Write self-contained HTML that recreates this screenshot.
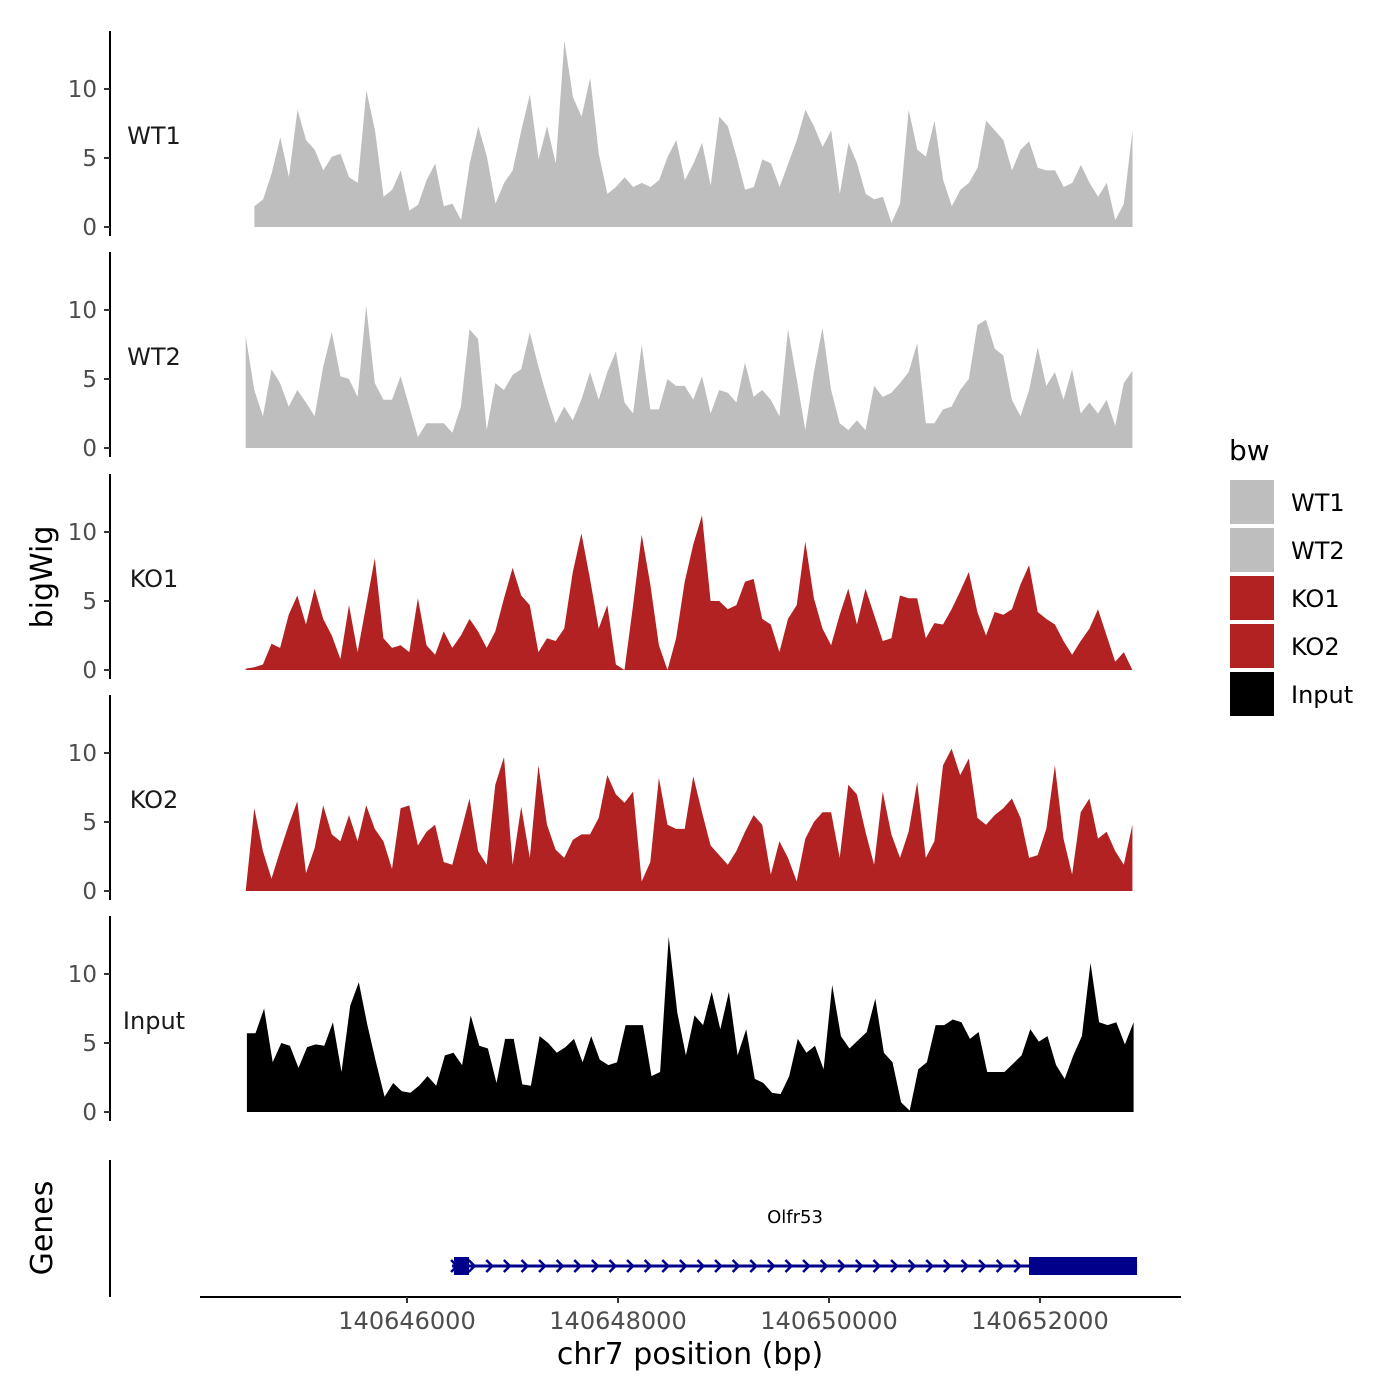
<!DOCTYPE html>
<html><head><meta charset="utf-8"><style>
html,body{margin:0;padding:0;background:#fff;}
svg{display:block;font-family:"DejaVu Sans","Liberation Sans",sans-serif;}
</style></head><body>
<svg id="chart" width="1400" height="1400" viewBox="0 0 1400 1400" xmlns="http://www.w3.org/2000/svg">
<g id="tracks"></g>
<g id="genes"></g>
<g id="xaxis"></g>
<text x="42" y="577" transform="rotate(-90 42 577)" text-anchor="middle" font-size="30" dy="10">bigWig</text>
<text x="42" y="1228" transform="rotate(-90 42 1228)" text-anchor="middle" font-size="30" dy="10">Genes</text>
<text x="690" y="1364" text-anchor="middle" font-size="30">chr7 position (bp)</text>
<g id="legend"></g>
</svg>
<script>
const trackNames = ["WT1","WT2","KO1","KO2","Input"];
const trackColors = ["#bebebe","#bebebe","#b22222","#b22222","#000000"];
const trackStarts = [140644554,140644471,140644471,140644471,140644482];
const binStep = 81.6;
const wt1Values = [1.5,2.0,3.9,6.5,3.6,8.5,6.3,5.6,4.1,5.1,5.3,3.6,3.2,9.9,7.0,2.2,2.7,4.1,1.2,1.6,3.4,4.6,1.5,1.7,0.5,4.6,7.3,5.1,1.7,3.2,4.1,7.0,9.6,4.9,7.3,4.6,13.5,9.4,8.0,10.8,5.3,2.4,2.9,3.6,2.9,3.2,2.9,3.4,5.1,6.3,3.4,4.6,6.1,3.0,8.0,7.3,5.1,2.7,2.9,4.9,4.6,2.9,4.6,6.3,8.5,7.3,5.8,7.0,2.4,6.1,4.6,2.4,2.0,2.2,0.3,1.7,8.5,5.6,5.1,7.7,3.4,1.5,2.7,3.2,4.3,7.7,7.0,6.3,4.1,5.6,6.2,4.3,4.1,4.1,2.9,3.2,4.5,3.2,2.2,3.2,0.5,1.7,7.0];
const wt2Values = [8.1,4.2,2.3,5.7,4.7,3.0,4.2,3.3,2.3,5.9,8.4,5.2,5.0,3.7,10.3,4.7,3.5,3.5,5.2,3.0,0.8,1.8,1.8,1.8,1.1,3.0,8.6,7.9,1.3,4.7,4.2,5.3,5.7,8.4,5.9,3.7,1.8,3.0,2.0,3.5,5.5,3.5,5.5,7.0,3.3,2.5,7.5,2.8,2.8,5.0,4.5,4.5,3.5,5.2,2.5,4.2,4.0,3.3,6.2,3.7,4.2,3.5,2.3,8.6,5.0,1.3,5.5,8.7,4.2,1.8,1.3,2.0,1.3,4.5,3.7,4.0,4.7,5.5,7.6,1.8,1.8,2.8,3.0,4.2,5.0,8.9,9.3,7.2,6.7,3.5,2.3,4.2,7.3,4.5,5.5,3.5,5.7,2.5,3.3,2.5,3.5,1.6,4.7,5.6];
const ko1Values = [0.1,0.2,0.4,1.9,1.6,4.0,5.4,3.3,5.9,3.7,2.5,0.8,4.7,1.3,4.7,8.1,2.3,1.6,1.8,1.3,5.2,1.8,1.1,2.8,1.6,2.5,3.7,2.8,1.6,2.8,5.2,7.4,5.4,4.7,1.3,2.3,2.1,3.0,7.1,9.9,6.6,3.0,4.7,0.4,0,4.7,9.8,6.2,1.8,0,2.3,6.4,9.1,11.2,5.0,5.0,4.4,4.7,6.4,6.6,3.7,3.3,1.3,3.7,4.7,9.3,5.2,3.0,1.8,4.0,5.9,3.3,5.9,4.0,2.1,2.3,5.4,5.2,5.2,2.3,3.4,3.3,4.4,5.7,7.1,4.2,2.5,4.2,4.0,4.4,6.2,7.6,4.2,3.7,3.3,2.1,1.1,2.1,3.0,4.4,2.5,0.6,1.3,0];
const ko2Values = [0,6.0,2.9,0.9,2.9,4.8,6.5,1.3,3.1,6.2,4.1,3.6,5.5,3.6,6.2,4.5,3.6,1.6,6.0,6.2,3.3,4.3,4.8,2.1,1.9,4.3,6.7,2.9,1.9,7.7,9.7,1.9,6.1,2.4,9.1,4.8,3.0,2.4,3.7,4.1,4.1,5.3,8.4,7.0,6.4,7.2,0.7,2.1,8.2,4.8,4.5,4.5,8.3,5.7,3.3,2.6,1.9,2.9,4.3,5.5,4.8,1.2,3.6,2.4,0.7,3.8,5.0,5.7,5.7,2.4,7.7,7.0,4.3,1.9,7.2,4.1,2.4,4.3,7.9,2.4,3.6,9.1,10.3,8.4,9.6,5.3,4.8,5.5,6.0,6.7,5.3,2.4,2.6,4.5,9.1,3.8,1.2,5.7,6.7,3.8,4.3,2.9,1.9,4.8];
const inputValues = [5.7,5.7,7.5,3.6,5.0,4.8,3.2,4.7,4.9,4.8,6.5,2.9,7.7,9.4,6.3,3.6,1.1,2.1,1.5,1.4,1.9,2.6,1.9,4.1,4.3,3.4,7.0,4.8,4.6,2.1,5.3,5.3,2.0,1.9,5.5,5.0,4.3,4.7,5.3,3.6,5.5,3.8,3.4,3.6,6.3,6.3,6.3,2.6,2.9,12.7,7.2,4.1,7.0,6.3,8.7,6.0,8.7,4.1,6.0,2.4,2.1,1.4,1.3,2.6,5.3,4.3,4.8,3.1,9.2,5.5,4.6,5.2,5.8,8.2,4.3,3.6,0.7,0.1,3.1,3.6,6.3,6.3,6.7,6.5,5.3,5.8,2.9,2.9,2.9,3.5,4.1,6.0,5.1,5.5,3.4,2.4,4.1,5.5,10.8,6.5,6.3,6.5,4.9,6.5];
const trackValues = [wt1Values,wt2Values,ko1Values,ko2Values,inputValues];
const yTicks = [0,5,10];
const xTicks = [140646000,140648000,140650000,140652000];
const xTickLabels = ["140646000","140648000","140650000","140652000"];
const geneName = "Olfr53";
const geneStart = 140646427, geneEnd = 140652920;
const exons = [[140646445,140646588],[140651896,140652920]];

const NS="http://www.w3.org/2000/svg";
function mk(tag,attrs,parent){const e=document.createElementNS(NS,tag);for(const k in attrs)e.setAttribute(k,attrs[k]);parent.appendChild(e);return e;}
function xScale(bp){return 407+(bp-140646000)*211/2000;}
const panelTops=[31,252,474,695,916], panelH=205, yMin=-0.65, yMax=14.2;
function yScale(p,v){const bot=panelTops[p]+panelH;return bot-(v-yMin)/(yMax-yMin)*panelH;}

const tracks=document.getElementById('tracks');
trackNames.forEach((name,p)=>{
  const g=mk('g',{},tracks);
  
  
  const vals=trackValues[p];
  const x0=xScale(trackStarts[p]), xN=xScale(trackStarts[p]+(vals.length-1)*binStep);
  let d='M'+x0.toFixed(1)+','+yScale(p,0).toFixed(1);
  vals.forEach((v,i)=>{d+='L'+xScale(trackStarts[p]+i*binStep).toFixed(1)+','+yScale(p,v).toFixed(1);});
  d+='L'+xN.toFixed(1)+','+yScale(p,0).toFixed(1)+'Z';
  const a=mk('path',{d:d,fill:trackColors[p]},g);
  
  
  const ax=mk('line',{x1:110,x2:110,y1:panelTops[p],y2:panelTops[p]+panelH,stroke:'#000','stroke-width':2},g);
  
  
  yTicks.forEach(t=>{
    const y=yScale(p,t);
    const tk=mk('line',{x1:104,x2:110,y1:y,y2:y,stroke:'#333','stroke-width':2},g);
    
    
    const tl=mk('text',{x:97,y:y+8,'text-anchor':'end','font-size':23,fill:'#4d4d4d'},g);
    tl.textContent=t;
    
    
  });
  const lb=mk('text',{x:154,y:yScale(p,6.6)+8,'text-anchor':'middle','font-size':24,fill:'#1a1a1a'},g);
  lb.textContent=name;
  
  
});

const gp=document.getElementById('genes');
const gax=mk('line',{x1:110,x2:110,y1:1160,y2:1297,stroke:'#000','stroke-width':2},gp);


const gy=1266, gc='#00008b';
const gl=mk('line',{x1:xScale(geneStart),x2:xScale(geneEnd),y1:gy,y2:gy,stroke:gc,'stroke-width':3},gp);


for(let x=xScale(geneStart)+2;x<xScale(exons[1][0]);x+=17.6){
  const c=mk('path',{d:`M${x-3},${gy-6}L${x+3},${gy}L${x-3},${gy+6}`,fill:'none',stroke:gc,'stroke-width':2.5},gp);
  
  
}
exons.forEach(e=>{
  const r=mk('rect',{x:xScale(e[0]),y:gy-9,width:xScale(e[1])-xScale(e[0]),height:18,fill:gc},gp);
  
  
});
const gn=mk('text',{x:795,y:1223,'text-anchor':'middle','font-size':18,fill:'#000'},gp);
gn.textContent=geneName;



const xa=document.getElementById('xaxis');
const xl=mk('line',{x1:200,x2:1181,y1:1297,y2:1297,stroke:'#000','stroke-width':2},xa);


xTicks.forEach((t,i)=>{
  const x=xScale(t);
  const tk=mk('line',{x1:x,x2:x,y1:1297,y2:1303,stroke:'#333','stroke-width':2},xa);
  
  
  const tl=mk('text',{x:x,y:1329,'text-anchor':'middle','font-size':24,fill:'#4d4d4d'},xa);
  tl.textContent=xTickLabels[i];
  
  
});

const lg=document.getElementById('legend');
const lt=mk('text',{x:1229,y:460,'font-size':28,fill:'#000'},lg);
lt.textContent='bw';


trackNames.forEach((n,i)=>{
  const g=mk('g',{},lg);
  
  
  mk('rect',{x:1230,y:480+i*48,width:44,height:44,fill:trackColors[i]},g);
  const t=mk('text',{x:1291,y:511+i*48,'font-size':24,fill:'#000'},g);
  t.textContent=n;
});
</script>
</body></html>
